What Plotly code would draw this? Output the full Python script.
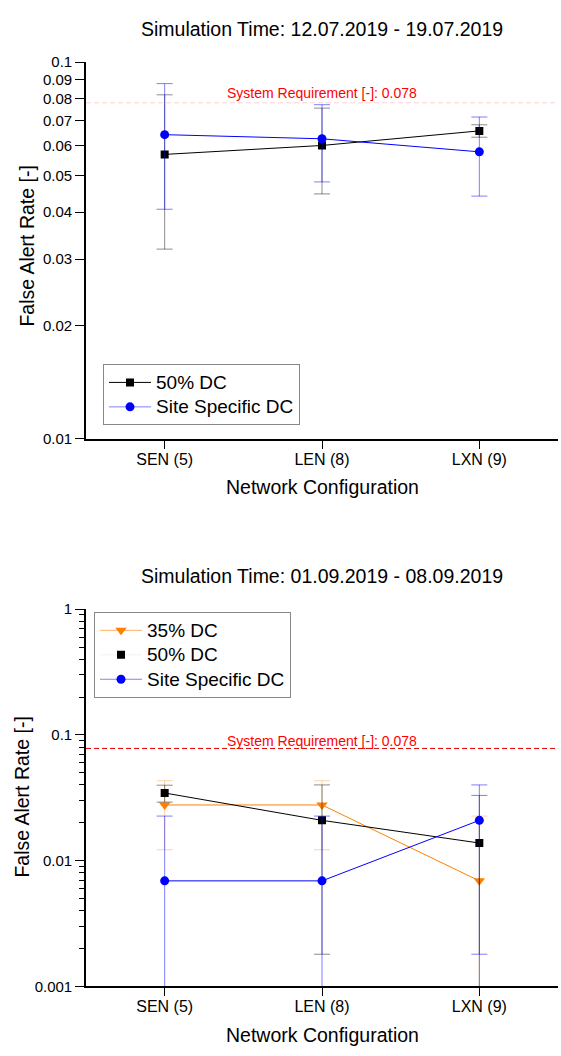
import math
import plotly.graph_objects as go

W, H = 561, 1056
FONT = "Liberation Sans, Arial, sans-serif"

categories = ["SEN (5)", "LEN (8)", "LXN (9)"]

# Simulation period 12.07.2019 - 19.07.2019 (mean and standard deviation)
jul_dc50 = [0.0569, 0.0601, 0.0657]
jul_dc50_sd = [0.0250, 0.0154, 0.0025]
jul_site = [0.0642, 0.0626, 0.0578]
jul_site_sd = [0.0235, 0.0145, 0.0137]

# Simulation period 01.09.2019 - 08.09.2019
sep_dc35 = [0.0277, 0.0277, 0.0069]
sep_dc35_sd = [0.0155, 0.0155, 0.0157]
sep_dc50 = [0.0345, 0.0209, 0.0138]
sep_dc50_sd = [0.0053, 0.0191, 0.0192]
sep_site = [0.0069, 0.0069, 0.0209]
sep_site_sd = [0.0157, 0.0157, 0.0191]

requirement = 0.078

top_tickvals = [0.01, 0.02, 0.03, 0.04, 0.05, 0.06, 0.07, 0.08, 0.09, 0.1]
top_ticktext = ["0.01", "0.02", "0.03", "0.04", "0.05", "0.06", "0.07", "0.08", "0.09", "0.1"]
bottom_tickvals = [0.001, 0.01, 0.1, 1]
bottom_ticktext = ["0.001", "0.01", "0.1", "1"]
bottom_minor = [m * 10.0 ** e for e in (-3, -2, -1) for m in range(2, 10)]

BLACK = "#000000"
BLUE = "#0000FF"
ORANGE = "#FF8000"


def px_x(p):
    return p / W


def px_y(p):
    return 1 - p / H


# plot areas in pixels
X0, X1 = 86, 558
TOP_Y0, TOP_Y1 = 54, 437
BOT_Y0, BOT_Y1 = 610, 993.3

fig = go.Figure()


def series(x, y, sd, color, err_color, symbol, size, xa, ya):
    return go.Scatter(
        x=x, y=y, xaxis=xa, yaxis=ya, mode="lines+markers",
        line=dict(color=color, width=1),
        marker=dict(symbol=symbol, size=size, color=color, line=dict(width=0)),
        error_y=dict(type="data", array=sd, symmetric=True, color=err_color,
                     thickness=1, width=8),
        showlegend=False, hoverinfo="skip",
    )


def legend_entry(name, line_color, marker_color, symbol, size, legend):
    return go.Scatter(
        x=[None], y=[None], mode="lines+markers",
        name=f'<span style="font-size:19px">{name}</span>',
        line=dict(color=line_color, width=1),
        marker=dict(symbol=symbol, size=size, color=marker_color),
        legend=legend, showlegend=True,
    )


# top panel
fig.add_trace(series(categories, jul_dc50, jul_dc50_sd, BLACK, "rgba(0,0,0,0.45)",
                     "square", 8, "x", "y"))
fig.add_trace(series(categories, jul_site, jul_site_sd, BLUE, "rgba(0,0,255,0.5)",
                     "circle", 9, "x", "y"))
fig.add_trace(legend_entry("50% DC", BLACK, BLACK, "square", 8, "legend"))
fig.add_trace(legend_entry("Site Specific DC", "#8080FF", BLUE, "circle", 9, "legend"))

# bottom panel
fig.add_trace(series(categories, sep_dc35, sep_dc35_sd, ORANGE, "rgba(255,128,0,0.35)",
                     "triangle-down", 10, "x2", "y2"))
fig.add_trace(series(categories, sep_dc50, sep_dc50_sd, BLACK, "rgba(0,0,0,0.45)",
                     "square", 8, "x2", "y2"))
fig.add_trace(series(categories, sep_site, sep_site_sd, BLUE, "rgba(0,0,255,0.5)",
                     "circle", 9, "x2", "y2"))
fig.add_trace(legend_entry("35% DC", "#FFB366", ORANGE, "triangle-down", 10, "legend2"))
fig.add_trace(legend_entry("50% DC", "#F2F2F2", BLACK, "square", 8, "legend2"))
fig.add_trace(legend_entry("Site Specific DC", "#8080FF", BLUE, "circle", 9, "legend2"))

axis_common = dict(
    showgrid=False, zeroline=False, showline=True, linecolor="black", linewidth=1.6,
    ticks="outside", tickcolor="black", tickwidth=1, mirror=False,
)

xdom = [px_x(X0), px_x(X1)]
fig.update_layout(
    width=W, height=H, margin=dict(l=0, r=0, t=0, b=0),
    paper_bgcolor="white", plot_bgcolor="white",
    font=dict(family=FONT, color="black"),
    xaxis=dict(domain=xdom, anchor="y", type="category", range=[-0.5, 2.5],
               ticklen=8, ticklabelstandoff=-3, tickfont=dict(size=16), **axis_common),
    yaxis=dict(domain=[px_y(TOP_Y1), px_y(TOP_Y0)], anchor="x", type="log",
               range=[-2, -1], tickvals=top_tickvals, ticktext=top_ticktext,
               ticklen=9, tickfont=dict(size=15), **axis_common),
    xaxis2=dict(domain=xdom, anchor="y2", type="category", range=[-0.5, 2.5],
                ticklen=8, ticklabelstandoff=-3, tickfont=dict(size=16), **axis_common),
    yaxis2=dict(domain=[px_y(BOT_Y1), px_y(BOT_Y0)], anchor="x2", type="log",
                range=[-3, 0], tickvals=bottom_tickvals, ticktext=bottom_ticktext,
                ticklen=9, tickfont=dict(size=15),
                minor=dict(tickvals=bottom_minor, ticks="outside", ticklen=5,
                           tickwidth=1, tickcolor="black", showgrid=False),
                **axis_common),
    legend=dict(x=px_x(103), y=px_y(361), xanchor="left", yanchor="top",
                bordercolor="#888888", borderwidth=1, bgcolor="white",
                font=dict(size=16.5), tracegroupgap=0, itemwidth=42),
    legend2=dict(x=px_x(94), y=px_y(613), xanchor="left", yanchor="top",
                 bordercolor="#888888", borderwidth=1, bgcolor="white",
                 font=dict(size=16.5), tracegroupgap=0, itemwidth=42),
    showlegend=True,
)

# system requirement lines
for xr, yr, color in (("x", "y", "rgba(255,0,0,0.18)"), ("x2", "y2", "#E00000")):
    fig.add_shape(type="line", xref=xr + " domain", yref=yr, x0=0, x1=1,
                  y0=requirement, y1=requirement,
                  line=dict(color=color, width=1, dash="5px,3px"))

for xr, yr, shift in (("x", "y", 10), ("x2", "y2", 7)):
    fig.add_annotation(xref=xr + " domain", yref=yr, x=0.5, y=math.log10(requirement),
                       yshift=shift, showarrow=False,
                       text=f"System Requirement [-]: {requirement}",
                       font=dict(size=14, color="#FF0000"))

xc = px_x((X0 + X1) / 2)
texts = [
    ("Simulation Time: 12.07.2019 - 19.07.2019", xc, px_y(20), 19.5, 0),
    ("Simulation Time: 01.09.2019 - 08.09.2019", xc, px_y(576.5), 19.5, 0),
    ("Network Configuration", xc, px_y(486), 19.5, 0),
    ("Network Configuration", xc, px_y(1043), 19.5, 0),
    ("False Alert Rate [-]", px_x(27.5), px_y(241), 19.5, -90),
    ("False Alert Rate [-]", px_x(22.5), px_y(801), 19.5, -90),
]
for t, x, y, s, ang in texts:
    fig.add_annotation(xref="paper", yref="paper", x=x, y=y, text=t, showarrow=False,
                       xanchor="center", yanchor="middle", textangle=ang,
                       font=dict(size=s, color="black"))

fig.write_html("out.html")
